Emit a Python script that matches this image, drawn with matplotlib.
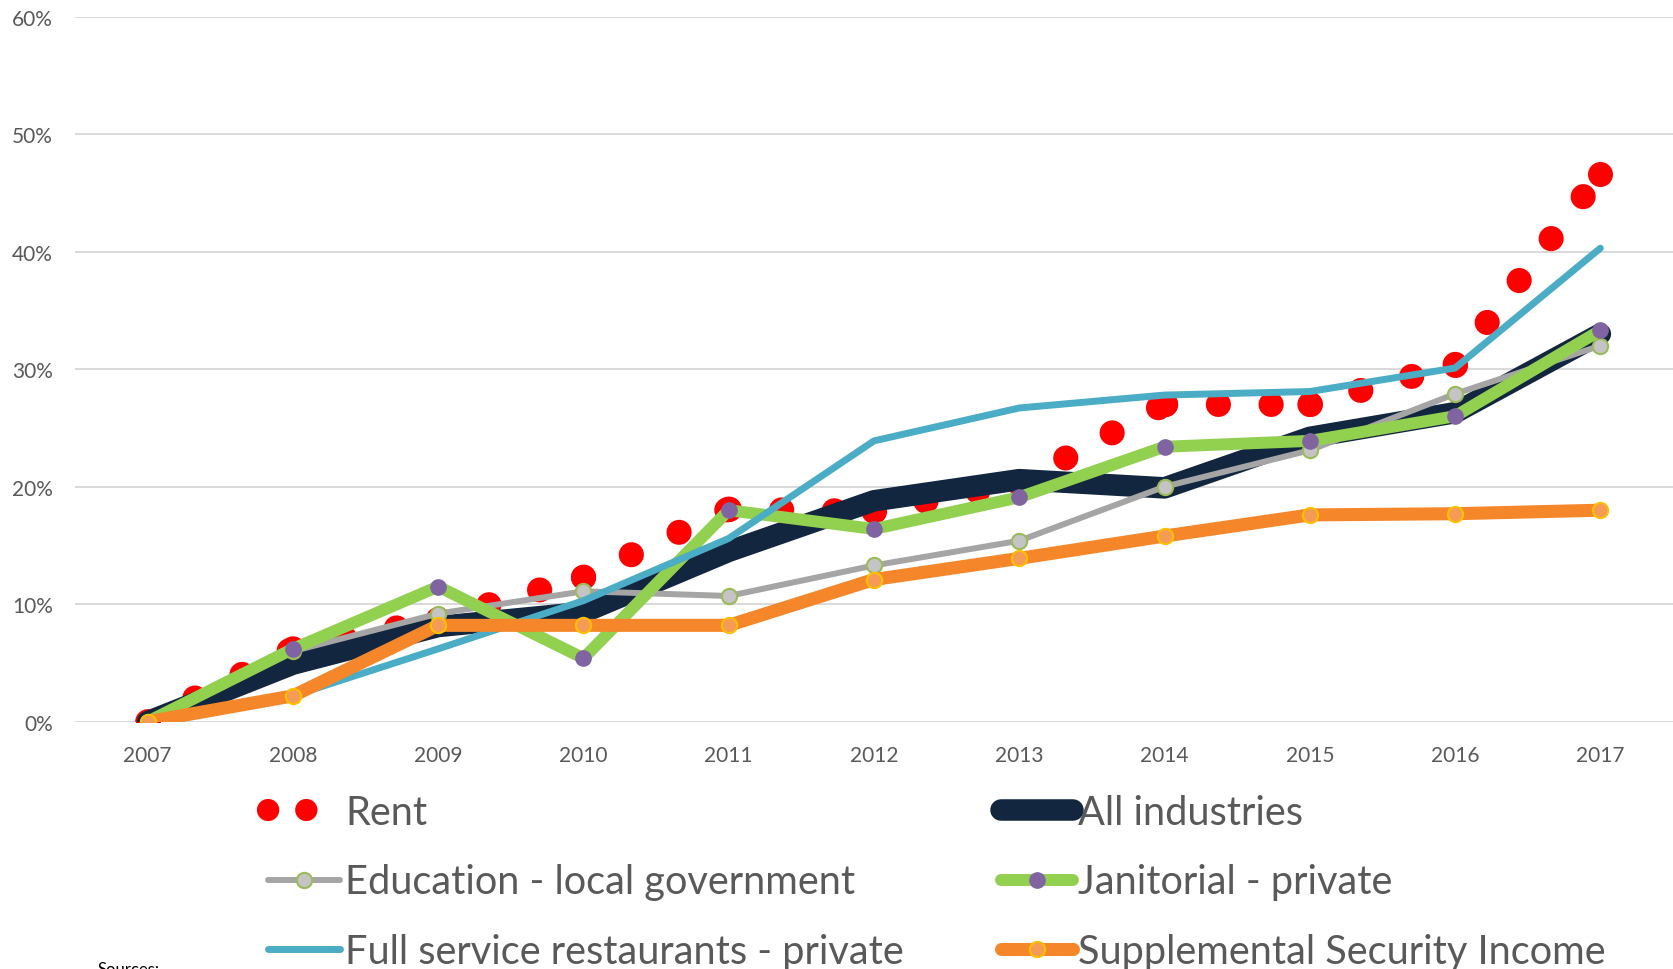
import matplotlib.pyplot as plt
from matplotlib.lines import Line2D
from matplotlib.ticker import FuncFormatter

# cumulative % change since 2007
years = list(range(2007, 2018))
rent = [0, 6.2, 8.7, 12.3, 18.1, 17.9, 20.3, 27.0, 27.0, 30.4, 46.6]
all_industries = [0, 4.9, 8.1, 9.3, 14.5, 18.8, 20.6, 19.9, 24.2, 26.3, 33.0]
education = [0, 6.0, 9.2, 11.1, 10.7, 13.3, 15.4, 20.0, 23.1, 27.9, 32.0]
janitorial = [0, 6.2, 11.5, 5.4, 18.0, 16.4, 19.1, 23.4, 23.9, 26.0, 33.3]
restaurants = [0, 2.2, 6.2, 10.3, 15.6, 23.9, 26.7, 27.8, 28.1, 30.1, 40.3]
ssi = [0, 2.2, 8.2, 8.2, 8.2, 12.1, 13.9, 15.8, 17.6, 17.7, 18.0]
ytick_vals = [0, 10, 20, 30, 40, 50, 60]

plt.rcParams['font.family'] = ['Lato', 'DejaVu Sans']
txt_color = '#595959'

fig = plt.figure(figsize=(16.73, 9.70), dpi=100)
ax = fig.add_axes([75/1673, (970-722.7)/970, 1 - 75/1673, 705/970])

# rent: round-dot line, pattern restarts at every point (like Excel)
for i in range(len(years) - 1):
    ax.plot(years[i:i+2], rent[i:i+2], color='#FF0000', lw=18, linestyle=(0, (0.01, 2.1)),
            dash_capstyle='round', zorder=2)
ax.plot(years, rent, linestyle='none', marker='o', markersize=18,
        color='#FF0000', markeredgewidth=0, zorder=2)

all_line, = ax.plot(years, all_industries, color='#12263F', lw=15.5,
                    solid_capstyle='round', solid_joinstyle='round', zorder=3)
edu_line, = ax.plot(years, education, color='#A5A5A5', lw=4.3, marker='o', markersize=11,
                    markerfacecolor='#C4C4C4', markeredgecolor='#9BBB59', markeredgewidth=1.5,
                    solid_capstyle='round', zorder=4)
jan_line, = ax.plot(years, janitorial, color='#92D050', lw=8.6, marker='o', markersize=11,
                    markerfacecolor='#8064A2', markeredgecolor='#8064A2',
                    solid_capstyle='round', zorder=5)
rest_line, = ax.plot(years, restaurants, color='#4BACC6', lw=5,
                     solid_capstyle='round', zorder=6)
ssi_line, = ax.plot(years, ssi, color='#F5872A', lw=9.4, marker='o', markersize=11,
                    markerfacecolor='#F59B55', markeredgecolor='#FFC000', markeredgewidth=1.5,
                    solid_capstyle='round', zorder=7)

ax.set_xlim(2006.5, 2017.5)
ax.set_ylim(0, 60)
ax.set_xticks(years)
ax.set_xticklabels([str(y) for y in years])
ax.set_yticks(ytick_vals)
ax.yaxis.set_major_formatter(FuncFormatter(lambda v, p: '%d%%' % v))
ax.tick_params(axis='both', length=0, labelsize=15, labelcolor=txt_color)
ax.tick_params(axis='y', pad=16)
ax.tick_params(axis='x', pad=17)
ax.yaxis.grid(True, color='#D9D9D9', linewidth=1.4)
ax.set_axisbelow(True)
for s in ax.spines.values():
    s.set_visible(False)

# legend, two columns
rent_proxy = Line2D([], [], color='#FF0000', lw=16, linestyle=(0, (0.01, 1.71)),
                    dash_capstyle='round')
leg_kw = dict(loc='center left', bbox_transform=fig.transFigure, frameon=False,
              fontsize=28.6, handlelength=1.82, handletextpad=0.12, labelspacing=0.81,
              borderpad=0, borderaxespad=0, labelcolor=txt_color)
leg1 = ax.legend([rent_proxy, edu_line, rest_line],
                 ['Rent', 'Education - local government', 'Full service restaurants - private'],
                 bbox_to_anchor=(268/1673, 87/970), **leg_kw)
ax.add_artist(leg1)
ax.legend([all_line, jan_line, ssi_line],
          ['All industries', 'Janitorial - private', 'Supplemental Security Income'],
          bbox_to_anchor=(1001/1673, 87/970), **leg_kw)

fig.text(97/1673, 8/970, 'Sources:', va='top', fontsize=12, color='black')

plt.savefig('out.png', dpi=100)
